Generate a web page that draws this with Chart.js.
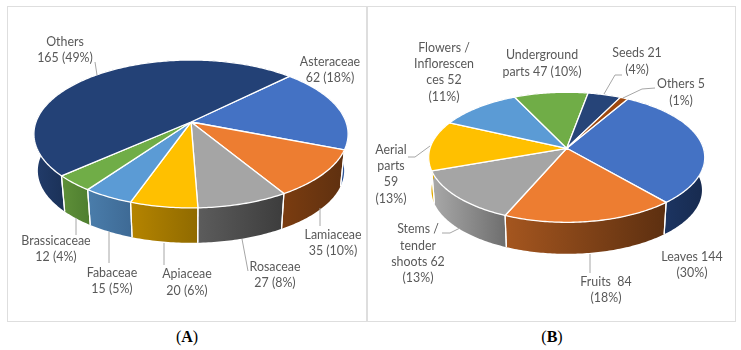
<!DOCTYPE html>
<html>
<head>
<meta charset="utf-8">
<script src="https://cdn.jsdelivr.net/npm/chart.js@4"></script>
<style>
html,body{margin:0;padding:0;background:#fff;width:741px;height:350px;overflow:hidden}
canvas{position:absolute;top:0}
.frame{position:absolute;box-sizing:border-box;border:1.5px solid #dedede;top:6px;height:316px}
.cap{position:absolute;top:328px;font:16px "Liberation Serif",serif;color:#000;transform:translateX(-50%)}
</style>
</head>
<body>
<div class="frame" style="left:7px;width:360px"></div>
<div class="frame" style="left:367px;width:369px"></div>
<div class="cap" style="left:187px">(<b>A</b>)</div>
<div class="cap" style="left:552px">(<b>B</b>)</div>
<canvas id="chartA" width="367" height="350" style="left:0"></canvas>
<canvas id="chartB" width="374" height="350" style="left:367px"></canvas>
<script>
// ---- data ----
const categoriesA = ["Asteraceae","Lamiaceae","Rosaceae","Apiaceae","Fabaceae","Brassicaceae","Others"];
const valuesA = [62,35,27,20,15,12,165];
const labelLinesA = [
  ["Asteraceae","62 (18%)"],["Lamiaceae","35 (10%)"],["Rosaceae","27 (8%)"],["Apiaceae","20 (6%)"],
  ["Fabaceae","15 (5%)"],["Brassicaceae","12 (4%)"],["Others","165 (49%)"]];

const categoriesB = ["Leaves","Fruits","Stems / tender shoots","Aerial parts","Flowers / Inflorescences","Underground parts","Seeds","Others"];
const valuesB = [144,84,62,59,52,47,21,5];
const labelLinesB = [
  ["Leaves 144","(30%)"],["Fruits  84","(18%)"],["Stems /","tender","shoots 62","(13%)"],["Aerial","parts","59","(13%)"],
  ["Flowers /","Inflorescen","ces 52","(11%)"],["Underground","parts 47 (10%)"],["Seeds 21","(4%)"],["Others 5","(1%)"]];

// ---- styles ----
const topColorsA = ["#4472c4","#ed7d31","#a5a5a5","#ffc000","#5b9bd5","#70ad47","#234176"];
const sideFromA  = ["#2f5597","#7a3c10","#5c5c5c","#b58400","#4a7dab","#5f9039","#223c6b"];
const sideToA    = ["#2f5597","#5e3010","#3c3c3c","#8f6a00","#3e6a95","#4f7f30","#1b3259"];
const topColorsB = ["#4472c4","#ed7d31","#a5a5a5","#ffc000","#5b9bd5","#70ad47","#264478","#9e480e"];
const sideFromB  = ["#1c3461","#a5561f","#a9a9a9","#e0aa00","#4a7dab","#5f9039","#223c6b","#7a3c10"];
const sideToB    = ["#172a4e","#5c2f10","#6e6e6e","#e0aa00","#3e6a95","#4f7f30","#1b3259","#5e3010"];

// ---- layout (page coordinates) ----
const layoutA = {
  originX:0, rotation:45, padding:{left:15,right:0,top:0,bottom:106},
  a:155, b:72, k:0.162, bottomScale:0.975, depth:37, font:'12.4px Lato',
  labelX:[330,333,275,187,112,56,65],
  labelY:[[62,78],[235,251],[267,283],[274,291],[273,289],[241,257],[42,58]],
  leaders:[[[320,208],[320,226]],[[242,239],[248,271]],[[164,243],[164,265]],[[109,232],[109,263]],[[76,218],[76,235]],[[95,62],[97,75]]]
};
const layoutB = {
  originX:367, rotation:30, padding:{left:25.4,right:0,top:0,bottom:53.4},
  a:136.7, b:63.8, k:0.138, bottomScale:0.98, depth:33, font:'12.4px Lato',
  labelX:[692,606,418,391,444,542,637,681],
  labelY:[[257,273],[282,298],[229,246,262,278],[150,166,182,199],[48,64,80,97],[55,72],[53,70],[84,101]],
  leaders:[[[604,94],[615,75],[622,75]],[[623,98],[642,89],[655,88]],[[430,146],[415,157],[408,157]],[[460,228],[450,233],[442,233]],[[590,254],[590,273]]]
};

function pie3d(layout, labelLines, sideFrom, sideTo){
  return {
    id:'pie3d',
    beforeDatasetDraw(chart){
      const ctx = chart.ctx, arcs = chart.getDatasetMeta(0).data;
      const {a,b,k,bottomScale,depth} = layout;
      const topPt = (cx,cy,t)=>{const u=Math.cos(t),v=Math.sin(t),w=1-k*v;return [cx+a*u/w,cy+b*v/w];};
      const botPt = (cx,cy,t)=>{const u=Math.cos(t),v=Math.sin(t),w=1-k*v;return [cx+bottomScale*a*u/w,cy+depth+bottomScale*b*v/w];};
      const samples = arc=>{const n=Math.max(2,Math.ceil((arc.endAngle-arc.startAngle)/0.015)),r=[];
        for(let i=0;i<=n;i++) r.push(arc.startAngle+(arc.endAngle-arc.startAngle)*i/n);return r;};
      ctx.save();
      ctx.lineJoin='round';
      // sides first, covered afterwards by the top faces
      arcs.forEach((arc,i)=>{
        const ts=samples(arc), top=ts.map(t=>topPt(arc.x,arc.y,t)), bot=ts.map(t=>botPt(arc.x,arc.y,t)).reverse();
        const front=top.filter((p,j)=>Math.sin(ts[j])>-0.1), xs=(front.length?front:top).map(p=>p[0]);
        const g=ctx.createLinearGradient(Math.min(...xs),0,Math.max(...xs)+1,0);
        g.addColorStop(0,sideFrom[i]);g.addColorStop(1,sideTo[i]);
        ctx.beginPath();
        top.concat(bot).forEach((p,j)=>j?ctx.lineTo(p[0],p[1]):ctx.moveTo(p[0],p[1]));
        ctx.closePath();
        ctx.fillStyle=g;ctx.fill();
      });
      // seams between side panels
      ctx.strokeStyle='#fff';ctx.lineWidth=1.2;
      arcs.forEach(arc=>{
        [arc.startAngle,arc.endAngle].forEach(t=>{
          if(Math.sin(t)<=0) return;
          const p=topPt(arc.x,arc.y,t),q=botPt(arc.x,arc.y,t);
          ctx.beginPath();ctx.moveTo(p[0],p[1]);ctx.lineTo(q[0],q[1]);ctx.stroke();
        });
      });
      // top faces
      arcs.forEach(arc=>{
        ctx.beginPath();ctx.moveTo(arc.x,arc.y);
        samples(arc).forEach(t=>{const p=topPt(arc.x,arc.y,t);ctx.lineTo(p[0],p[1]);});
        ctx.closePath();
        ctx.fillStyle=arc.options.backgroundColor;ctx.fill();
        ctx.strokeStyle='#fff';ctx.lineWidth=1.3;ctx.stroke();
      });
      ctx.restore();
      return false;
    },
    afterDraw(chart){
      const ctx=chart.ctx, ox=layout.originX;
      ctx.save();
      ctx.strokeStyle='#a6a6a6';ctx.lineWidth=1;
      layout.leaders.forEach(l=>{
        ctx.beginPath();
        l.forEach((p,j)=>j?ctx.lineTo(p[0]-ox,p[1]):ctx.moveTo(p[0]-ox,p[1]));
        ctx.stroke();
      });
      ctx.fillStyle='#595959';ctx.font=layout.font;ctx.textAlign='center';ctx.textBaseline='middle';
      labelLines.forEach((lines,i)=>lines.forEach((s,j)=>ctx.fillText(s,layout.labelX[i]-ox,layout.labelY[i][j])));
      ctx.restore();
    }
  };
}

function build(id,categories,values,colors,layout,labelLines,sideFrom,sideTo){
  return new Chart(document.getElementById(id),{
    type:'pie',
    data:{labels:categories,datasets:[{data:values,backgroundColor:colors,borderWidth:0}]},
    options:{
      responsive:false,animation:false,devicePixelRatio:1,rotation:layout.rotation,
      layout:{padding:layout.padding},
      plugins:{legend:{display:false},tooltip:{enabled:false}}
    },
    plugins:[pie3d(layout,labelLines,sideFrom,sideTo)]
  });
}
build('chartA',categoriesA,valuesA,topColorsA,layoutA,labelLinesA,sideFromA,sideToA);
build('chartB',categoriesB,valuesB,topColorsB,layoutB,labelLinesB,sideFromB,sideToB);
</script>
</body>
</html>
